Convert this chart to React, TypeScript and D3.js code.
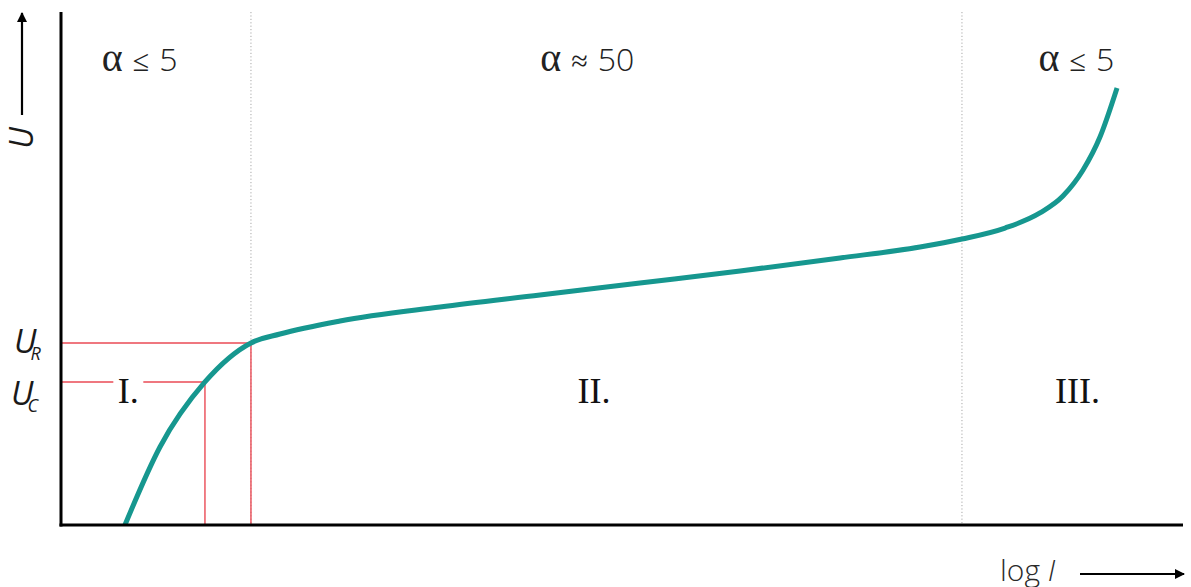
import React from "react";
import * as d3 from "d3";

// Varistor characteristic: voltage U over log current
const curveLogI = [5.7, 8.82, 12.83, 16.93, 19.52, 24.87, 33.78, 42.69, 51.6, 60.52, 69.43, 76.56, 80.3, 84.14, 87.25, 89.3, 91.09, 92.6, 94.12];
const curveU = [0, 15.2, 27.88, 35.48, 37.23, 39.77, 42.5, 44.83, 47.17, 49.51, 52.05, 54.19, 55.75, 57.89, 60.82, 64.13, 69.2, 75.63, 85.19];

// Region boundaries (log I)
const boundaries = [16.93, 80.3];
// Characteristic voltages: U_C and U_R with their currents
const markerNames = ["C", "R"];
const markerLogI = [12.83, 16.93];
const markerU = [27.88, 35.48];

// Region labels
const regionNames = ["I.", "II.", "III."];
const regionLabelX = [6.0, 47.5, 90.6];
const alphaRelations = ["≤", "≈", "≤"];
const alphaValues = ["5", "50", "5"];
const alphaLabelX = [7.0, 46.9, 90.5];

const W = 1191;
const H = 587;
const plot = { left: 61, right: 1183, top: 12, bottom: 525 };

const teal = "#16978f";
const red = "#ea4a55";
const ink = "#1a1a1a";

export default function App() {
  const x = d3.scaleLinear().domain([0, 100]).range([plot.left, plot.right]);
  const y = d3.scaleLinear().domain([0, 100]).range([plot.bottom, plot.top]);

  const pts: [number, number][] = curveLogI.map((v, i) => [v, curveU[i]]);
  const line = d3
    .line<[number, number]>()
    .x((d) => x(d[0]))
    .y((d) => y(d[1]))
    .curve(d3.curveMonotoneX);

  const ucY = y(markerU[0]);
  const labelIx = x(regionLabelX[0]);

  return (
    <svg
      width={W}
      height={H}
      style={{ position: "absolute", left: 0, top: 0, background: "#fff" }}
    >
      <defs>
        <marker id="arr" viewBox="0 0 10 10" refX="9" refY="5" markerWidth="10" markerHeight="10" markerUnits="userSpaceOnUse" orient="auto">
          <path d="M0,0 L10,5 L0,10 z" fill="#000" />
        </marker>
      </defs>

      {/* region boundaries */}
      {boundaries.map((b, i) => (
        <line key={i} x1={x(b)} x2={x(b)} y1={plot.top} y2={plot.bottom} stroke="#a8a8a8" strokeWidth={1} strokeDasharray="1.2,2.2" />
      ))}

      {/* marker lines for U_R and U_C */}
      {markerNames.map((n, i) => {
        const mx = x(markerLogI[i]);
        const my = y(markerU[i]);
        return (
          <g key={n} stroke={red} strokeWidth={1.4}>
            {n === "C" ? (
              <>
                <line x1={plot.left} x2={labelIx - 15} y1={my} y2={my} />
                <line x1={labelIx + 15} x2={mx} y1={my} y2={my} />
              </>
            ) : (
              <line x1={plot.left} x2={mx} y1={my} y2={my} />
            )}
            <line x1={mx} x2={mx} y1={my} y2={plot.bottom} />
          </g>
        );
      })}

      {/* characteristic curve */}
      <path d={line(pts) ?? ""} fill="none" stroke={teal} strokeWidth={5} strokeLinecap="butt" />

      {/* axes */}
      <line x1={plot.left} x2={plot.left} y1={plot.top} y2={plot.bottom + 1.5} stroke="#000" strokeWidth={3} />
      <line x1={plot.left - 1.5} x2={plot.right} y1={plot.bottom} y2={plot.bottom} stroke="#000" strokeWidth={3} />

      {/* y axis title */}
      <line x1={22} x2={22} y1={115} y2={13} stroke="#000" strokeWidth={2.2} markerEnd="url(#arr)" />
      <text transform="translate(33,138) rotate(-90)" textAnchor="middle" fontFamily="Open Sans" fontStyle="italic" fontSize={32} fill={ink}>U</text>

      {/* x axis title */}
      <text x={1000} y={581} fontFamily="Open Sans" fontWeight={300} fontSize={30} fill="#2a2a2a">
        log <tspan fontStyle="italic">I</tspan>
      </text>
      <line x1={1080} x2={1184} y1={574} y2={574} stroke="#000" strokeWidth={2.2} markerEnd="url(#arr)" />

      {/* U_R / U_C tick labels */}
      {markerNames.map((n, i) => (
        <text key={n} x={n === "R" ? 14 : 11} y={y(markerU[i]) + (n === "R" ? 10 : 23)} fontFamily="Open Sans" fontStyle="italic" fontSize={33} fill={ink}>
          U<tspan fontSize={18} dy={7} dx={-6}>{n}</tspan>
        </text>
      ))}

      {/* alpha labels */}
      {alphaRelations.map((rel, i) => (
        <text key={i} x={x(alphaLabelX[i])} y={71} textAnchor="middle" fill="#222">
          <tspan fontFamily="Liberation Serif" fontSize={40}>α</tspan>
          <tspan fontFamily="DejaVu Sans" fontWeight={300} fontSize={30} dx={10}>{rel}</tspan>
          <tspan fontFamily="Open Sans" fontWeight={300} fontSize={32} dx={10}>{alphaValues[i]}</tspan>
        </text>
      ))}

      {/* region labels */}
      {regionNames.map((r, i) => (
        <text key={r} x={x(regionLabelX[i])} y={ucY + 21} textAnchor="middle" fontFamily="Liberation Serif" fontSize={36} fill="#111">
          {r}
        </text>
      ))}
    </svg>
  );
}
